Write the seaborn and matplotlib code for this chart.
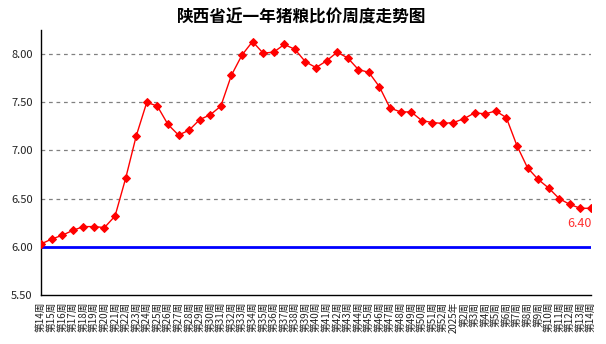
import matplotlib
matplotlib.use("Agg")
import matplotlib.pyplot as plt
import seaborn as sns
import pandas as pd

# Weekly hog-to-grain price ratio, Shaanxi
weeks = [f"第{i}周" for i in range(14, 53)] + ["2025年"] + [f"第{i}周" for i in range(2, 15)]
ratio = [6.03, 6.08, 6.12, 6.17, 6.21, 6.21, 6.20, 6.32, 6.71, 7.15,
         7.50, 7.46, 7.27, 7.16, 7.21, 7.32, 7.37, 7.46, 7.78, 7.99,
         8.13, 8.01, 8.02, 8.10, 8.05, 7.92, 7.86, 7.93, 8.02, 7.96,
         7.84, 7.81, 7.66, 7.44, 7.40, 7.40, 7.31, 7.29, 7.28, 7.29,
         7.33, 7.39, 7.38, 7.41, 7.34, 7.05, 6.82, 6.70, 6.61, 6.50,
         6.44, 6.40, 6.40]
yticks = [5.50, 6.00, 6.50, 7.00, 7.50, 8.00]
breakeven = 6.00

sns.set_theme(style="white")
plt.rcParams["font.family"] = ["Noto Sans CJK SC", "DejaVu Sans"]

df = pd.DataFrame({"idx": range(len(weeks)), "ratio": ratio})

fig = plt.figure(figsize=(6.06, 3.44), dpi=100)
ax = fig.add_axes([0.0677, 0.1424, 0.9075, 0.7704])

for y in yticks[2:]:
    ax.axhline(y, color="#808080", lw=0.9, ls=(0, (3, 3)), zorder=1)
ax.axhline(breakeven, color="#0000FF", lw=2.0, zorder=2)

sns.lineplot(data=df, x="idx", y="ratio", ax=ax, color="#FF0000", lw=1.0,
             marker="D", markersize=4.5, markeredgecolor="#FF0000", zorder=3)

last = len(ratio) - 1
ax.annotate(f"{ratio[-1]:.2f}", (last, ratio[-1]), xytext=(-8, -11),
            textcoords="offset points", ha="center", va="center",
            color="#FF3030", fontsize=9)

ax.set_xlim(0, last)
ax.set_ylim(5.5, 8.25)
ax.set_yticks(yticks)
ax.set_yticklabels([f"{v:.2f}" for v in yticks], fontsize=8)
ax.set_xticks(range(len(weeks)))
ax.set_xticklabels(weeks, rotation=90, fontsize=7)
ax.tick_params(axis="x", direction="in", length=3, width=0.8, pad=5, colors="black")
ax.tick_params(axis="y", direction="out", length=3, width=0.8, pad=3, colors="black")
for lbl in ax.get_xticklabels() + ax.get_yticklabels():
    lbl.set_color("#222222")
ax.set_xlabel("")
ax.set_ylabel("")

for side in ("top", "right"):
    ax.spines[side].set_visible(False)
for side in ("left", "bottom"):
    ax.spines[side].set_color("black")
    ax.spines[side].set_linewidth(1.0)

fig.text(0.498, 0.948, "陕西省近一年猪粮比价周度走势图", ha="center", va="center",
         fontsize=12, fontweight="bold", color="black")

fig.savefig("out.png", dpi=100)
